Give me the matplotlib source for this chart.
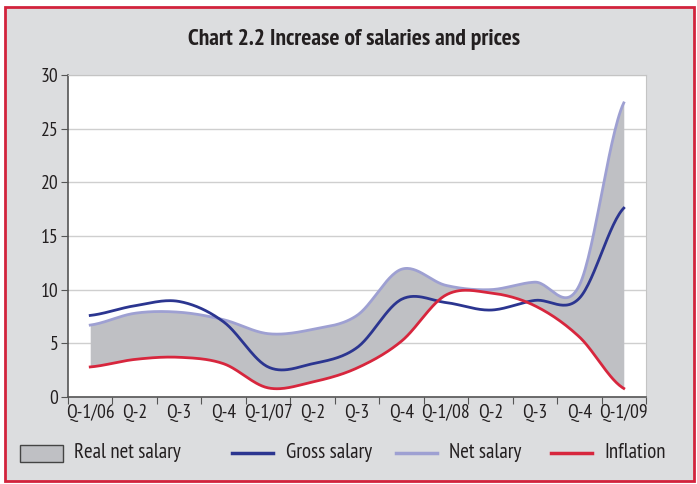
import numpy as np
import matplotlib.pyplot as plt
from matplotlib.patches import Rectangle
from matplotlib.lines import Line2D

plt.rcParams['font.family'] = ['PT Sans Narrow', 'DejaVu Sans']

# data (quarterly, % y/y)
quarters = ['Q-1/06', 'Q-2', 'Q-3', 'Q-4', 'Q-1/07', 'Q-2', 'Q-3', 'Q-4',
            'Q-1/08', 'Q-2', 'Q-3', 'Q-4', 'Q-1/09']
gross = [7.6, 8.5, 8.9, 7.0, 2.8, 3.1, 4.6, 9.1, 8.8, 8.1, 9.0, 9.2, 17.6]
net = [6.7, 7.8, 7.9, 7.2, 5.9, 6.3, 7.6, 11.9, 10.4, 10.0, 10.7, 10.4, 27.4]
inflation = [2.8, 3.5, 3.7, 3.1, 0.85, 1.4, 2.7, 5.2, 9.5, 9.7, 8.5, 5.6, 0.8]

c_gross = '#2b3590'
c_net = '#9ea0d2'
c_infl = '#d7263d'
c_fill = '#bfc0c4'
c_text = '#231f20'


def smooth(y, n=30):
    # Excel-like smoothed line (Bezier through the points)
    y = np.asarray(y, float)
    x = np.arange(len(y), dtype=float)
    xs, ys = [], []
    for i in range(len(y) - 1):
        y0 = y[i - 1] if i > 0 else y[i]
        y3 = y[i + 2] if i + 2 < len(y) else y[i + 1]
        c1 = y[i] + (y[i + 1] - y0) / 6
        c2 = y[i + 1] - (y3 - y[i]) / 6
        t = np.linspace(0, 1, n, endpoint=False)
        ys.append((1 - t) ** 3 * y[i] + 3 * (1 - t) ** 2 * t * c1 + 3 * (1 - t) * t ** 2 * c2 + t ** 3 * y[i + 1])
        xs.append(x[i] + t)
    xs.append([x[-1]])
    ys.append([y[-1]])
    return np.concatenate(xs), np.concatenate(ys)


fig = plt.figure(figsize=(6.97, 4.84), dpi=100)
fig.patches.append(Rectangle((5 / 697, 3 / 484), 689 / 697, 474 / 484, transform=fig.transFigure,
                             facecolor='#dcdddf', edgecolor='#d2233c', linewidth=2, zorder=-10))

ax = fig.add_axes([68 / 697, 87 / 484, 578 / 697, 322 / 484])
ax.set_facecolor('white')

xn, yn = smooth(net)
xi, yi = smooth(inflation)
xg, yg = smooth(gross)
ax.fill_between(xn, yn, yi, color=c_fill, lw=0, zorder=1)
ax.plot(xg, yg, color=c_gross, lw=2, zorder=3)
ax.plot(xn, yn, color=c_net, lw=2, zorder=2)
ax.plot(xi, yi, color=c_infl, lw=2, zorder=3)

ax.set_xlim(-0.5, len(quarters) - 0.5)
ax.set_ylim(0, 30)
ax.set_yticks(range(0, 31, 5))
ax.set_xticks(np.arange(-0.5, len(quarters), 1))
ax.set_xticklabels([])
ax.set_xticks(np.arange(len(quarters)), minor=True)
ax.set_xticklabels(quarters, minor=True)
ax.tick_params(axis='x', which='minor', length=0, pad=5, labelsize=14, labelcolor=c_text)
ax.tick_params(axis='x', which='major', length=5, color='#555555')
ax.tick_params(axis='y', length=5, color='#555555', labelsize=14, pad=2, labelcolor=c_text)
ax.grid(axis='y', color='#cfcfcf', lw=1)
ax.set_axisbelow(True)
for s in ['top', 'right']:
    ax.spines[s].set_color('#c4c4c4')
for s in ['left', 'bottom']:
    ax.spines[s].set_color('#555555')
    ax.spines[s].set_linewidth(1.2)

fig.text(354 / 697, 1 - 40 / 484, 'Chart 2.2 Increase of salaries and prices', ha='center', va='center',
         fontsize=17, fontweight='bold', color=c_text)

# legend, laid out by hand to match the reference spacing
ly = 1 - 453 / 484
fig.patches.append(Rectangle((20 / 697, ly - 8.5 / 484), 43 / 697, 17 / 484, transform=fig.transFigure,
                             facecolor=c_fill, edgecolor='#444444', lw=1))
fig.text(74 / 697, ly, 'Real net salary', va='center', fontsize=15, color=c_text)
for x0, x1, col, lab in [(232, 286, c_gross, 'Gross salary'), (396, 449, c_net, 'Net salary'),
                         (551, 604, c_infl, 'Inflation')]:
    fig.lines.append(Line2D([x0 / 697, (x0 + 41) / 697], [ly, ly], transform=fig.transFigure, color=col, lw=2.5))
    fig.text(x1 / 697, ly, lab, va='center', fontsize=15, color=c_text)

fig.savefig('out.png', dpi=100)
